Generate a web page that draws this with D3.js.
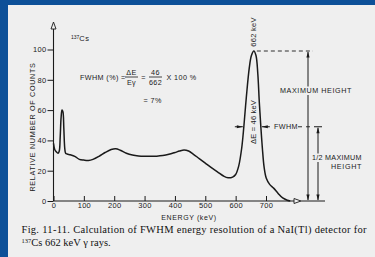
<!DOCTYPE html>
<html><head><meta charset="utf-8">
<script src="https://cdn.jsdelivr.net/npm/d3@7"></script>
<style>html,body{margin:0;padding:0;background:#0d5098;}svg{display:block;}</style>
</head><body>
<svg id="c" width="375" height="257"></svg>
<script>
// ---- data ----
const energyKeV = [0,4,9,15,19,22,25,28,31,34,37,40,45,55,70,85,100,115,130,150,170,190,205,220,240,260,280,300,320,340,360,380,400,415,430,445,460,480,500,520,540,560,575,590,600,610,620,627,635,645,652,660,667,673,678,683,688,694,701,712,725,740,755,770,780];
const relCounts = [38,34,32.5,31.5,33,42,55,60,59,48,35,31.5,31,30.5,29.5,27.5,27,26.8,27.5,29.5,32,34,34.5,33.5,31.5,30.3,29.7,29.5,29.5,29.6,30,30.8,32,33,33.7,33,31,28,25,22,19.3,16.5,15.3,15.8,17.5,23,35,49,68,88,96,99,96,84,65,49,35,22,15,11,8.5,5,2,0.5,0];
const xTicks = [0,100,200,300,400,500,600,700];
const yTicks = [0,20,40,60,80,100];
const peakKeV = 660, peakCounts = 99, halfCounts = 49;
const fwhmLeftKeV = 627, fwhmRightKeV = 683;

const svg = d3.select("#c");
const ink = "#1a1a1a", paper = "#efefef";
const sans = "'Liberation Sans', Arial, sans-serif";
const serif = "'Liberation Serif', 'Times New Roman', serif";

svg.append("rect").attr("width",375).attr("height",257).attr("fill","#0d5098");
svg.append("rect").attr("x",8).attr("y",5).attr("width",367).attr("height",252).attr("fill",paper);

const x = d3.scaleLinear().domain([0,700]).range([53.5,266]);
const y = d3.scaleLinear().domain([0,100]).range([201,49.5]);

// axes
const yAxis = svg.append("g").attr("transform",`translate(${x(0)},0)`)
  .call(d3.axisLeft(y).tickValues(yTicks).tickSize(6).tickPadding(1));
yAxis.select(".domain").remove();
yAxis.selectAll("line").attr("stroke",ink).attr("stroke-width",1);
yAxis.selectAll("text").attr("font-family",sans).attr("font-size",7.5).attr("fill",ink).attr("letter-spacing",0.3);

const xAxis = svg.append("g").attr("transform",`translate(0,${y(0)})`)
  .call(d3.axisBottom(x).tickValues(xTicks).tickSizeInner(-5).tickSizeOuter(0).tickPadding(2));
xAxis.select(".domain").remove();
xAxis.selectAll("line").attr("stroke",ink).attr("stroke-width",1);
xAxis.selectAll("text").attr("font-family",sans).attr("font-size",7.5).attr("fill",ink).attr("letter-spacing",0.3);

// axis lines with open arrows
svg.append("line").attr("x1",x(0)).attr("x2",x(0)).attr("y1",y(0)).attr("y2",29).attr("stroke",ink).attr("stroke-width",1.1);
svg.append("path").attr("d",`M${x(0)-2.5},29 L${x(0)},22 L${x(0)+2.5},29 Z`).attr("fill",paper).attr("stroke",ink).attr("stroke-width",0.9);
svg.append("line").attr("x1",x(0)).attr("x2",294).attr("y1",y(0)).attr("y2",y(0)).attr("stroke",ink).attr("stroke-width",1.1);
svg.append("path").attr("d",`M294,${y(0)-2.5} L301,${y(0)} L294,${y(0)+2.5} Z`).attr("fill",paper).attr("stroke",ink).attr("stroke-width",0.9);
svg.append("line").attr("x1",301).attr("x2",325).attr("y1",y(0)).attr("y2",y(0)).attr("stroke",ink).attr("stroke-width",1);

// axis titles
svg.append("text").attr("transform",`translate(35,127) rotate(-90)`).attr("text-anchor","middle")
  .attr("font-family",sans).attr("font-size",7.2).attr("letter-spacing",0.7).attr("fill",ink)
  .text("RELATIVE NUMBER OF COUNTS");
svg.append("text").attr("x",189).attr("y",220).attr("text-anchor","middle")
  .attr("font-family",sans).attr("font-size",7).attr("letter-spacing",0.6).attr("fill",ink)
  .text("ENERGY (keV)");

// spectrum
const pts = energyKeV.map((e,i)=>[e,relCounts[i]]);
svg.append("path").datum(pts)
  .attr("d",d3.line().x(d=>x(d[0])).y(d=>y(d[1])).curve(d3.curveCatmullRom.alpha(0.5)))
  .attr("fill","none").attr("stroke",ink).attr("stroke-width",1.5);

// peak annotations
const px = x(peakKeV), py = y(peakCounts), hy = y(halfCounts);
svg.append("line").attr("x1",px+3).attr("x2",313).attr("y1",py).attr("y2",py)
  .attr("stroke",ink).attr("stroke-dasharray","4,3").attr("stroke-width",0.9);
svg.append("text").attr("transform",`translate(${px+2.5},32) rotate(-90)`).attr("text-anchor","middle")
  .attr("font-family",sans).attr("font-size",7.5).attr("letter-spacing",0.3).attr("fill",ink).text("662 keV");
svg.append("text").attr("transform",`translate(${px+2.5},122) rotate(-90)`).attr("text-anchor","middle")
  .attr("font-family",sans).attr("font-size",7.5).attr("letter-spacing",0.2).attr("fill",ink).text("ΔE = 46 keV");

function arrowHead(xx,yy,dir){
  let d;
  if(dir==="up") d=`M${xx},${yy} L${xx-1.6},${yy+6} L${xx+1.6},${yy+6} Z`;
  if(dir==="down") d=`M${xx},${yy} L${xx-1.6},${yy-6} L${xx+1.6},${yy-6} Z`;
  if(dir==="right") d=`M${xx},${yy} L${xx-6},${yy-1.6} L${xx-6},${yy+1.6} Z`;
  if(dir==="left") d=`M${xx},${yy} L${xx+6},${yy-1.6} L${xx+6},${yy+1.6} Z`;
  svg.append("path").attr("d",d).attr("fill",ink);
}
// maximum height arrow
svg.append("line").attr("x1",308).attr("x2",308).attr("y1",py+1).attr("y2",y(0)-1).attr("stroke",ink).attr("stroke-width",1);
arrowHead(308,py+0.5,"up"); arrowHead(308,y(0)-0.5,"down");
// half height arrow
svg.append("line").attr("x1",318).attr("x2",318).attr("y1",hy+1).attr("y2",y(0)-1).attr("stroke",ink).attr("stroke-width",1);
arrowHead(318,hy+0.5,"up"); arrowHead(318,y(0)-0.5,"down");
svg.append("line").attr("x1",314).attr("x2",322).attr("y1",hy).attr("y2",hy).attr("stroke",ink).attr("stroke-width",1);

// FWHM arrows
const fl = x(fwhmLeftKeV), fr = x(fwhmRightKeV);
svg.append("line").attr("x1",fl-9).attr("x2",fl-1).attr("y1",hy).attr("y2",hy).attr("stroke",ink).attr("stroke-width",1);
arrowHead(fl-1,hy,"right");
svg.append("line").attr("x1",fr+1).attr("x2",fr+9).attr("y1",hy).attr("y2",hy).attr("stroke",ink).attr("stroke-width",1);
arrowHead(fr+1,hy,"left");
svg.append("text").attr("x",274).attr("y",hy+2.6).attr("font-family",sans).attr("font-size",7.2)
  .attr("letter-spacing",0.4).attr("fill",ink).text("FWHM");
svg.append("line").attr("x1",298).attr("x2",314).attr("y1",hy).attr("y2",hy)
  .attr("stroke",ink).attr("stroke-dasharray","4,4").attr("stroke-width",0.9);

// text labels with paper background
function labelBg(txt,xx,yy,w){
  svg.append("rect").attr("x",xx-1).attr("y",yy-6.5).attr("width",w+2).attr("height",8.5).attr("fill",paper);
  svg.append("text").attr("x",xx).attr("y",yy).attr("font-family",sans).attr("font-size",7.2)
    .attr("letter-spacing",0.6).attr("textLength",w).attr("lengthAdjust","spacing").attr("fill",ink).text(txt);
}
labelBg("MAXIMUM HEIGHT",280,93,72);
labelBg("1/2 MAXIMUM",312,160,50);
labelBg("HEIGHT",331,169,31);

// formula
const f = svg.append("g").attr("font-family",sans).attr("fill",ink).attr("font-size",7.2).attr("letter-spacing",0.4);
const cs = f.append("text").attr("x",71).attr("y",41).attr("font-size",7.5);
cs.append("tspan").attr("font-size",5).attr("dy",-2.5).attr("letter-spacing",0).text("137");
cs.append("tspan").attr("dy",2.5).text("Cs");
f.append("text").attr("x",80).attr("y",80).text("FWHM (%) =");
f.append("text").attr("x",131.5).attr("y",74.5).attr("text-anchor","middle").text("ΔE");
f.append("line").attr("x1",125).attr("x2",138).attr("y1",77).attr("y2",77).attr("stroke",ink).attr("stroke-width",0.8);
f.append("text").attr("x",131.5).attr("y",85).attr("text-anchor","middle").text("Eγ");
f.append("text").attr("x",143.5).attr("y",80).attr("text-anchor","middle").text("=");
f.append("text").attr("x",155.5).attr("y",74.5).attr("text-anchor","middle").text("46");
f.append("line").attr("x1",149).attr("x2",162).attr("y1",77).attr("y2",77).attr("stroke",ink).attr("stroke-width",0.8);
f.append("text").attr("x",155.5).attr("y",85).attr("text-anchor","middle").text("662");
f.append("text").attr("x",166.5).attr("y",80).text("X 100 %");
f.append("text").attr("x",143.5).attr("y",103).text("= 7%");

// caption
const cap = svg.append("g").attr("font-family",serif).attr("fill","#111").attr("font-size",10.5);
cap.append("text").attr("x",21.5).attr("y",233).attr("textLength",345).attr("lengthAdjust","spacing")
  .text("Fig. 11-11.   Calculation of FWHM energy resolution of a NaI(Tl) detector for");
const l2 = cap.append("text").attr("x",21.5).attr("y",246);
l2.append("tspan").attr("font-size",6.5).attr("dy",-3.5).text("137");
l2.append("tspan").attr("dy",3.5).text("Cs 662 keV γ rays.");
</script>
</body></html>
